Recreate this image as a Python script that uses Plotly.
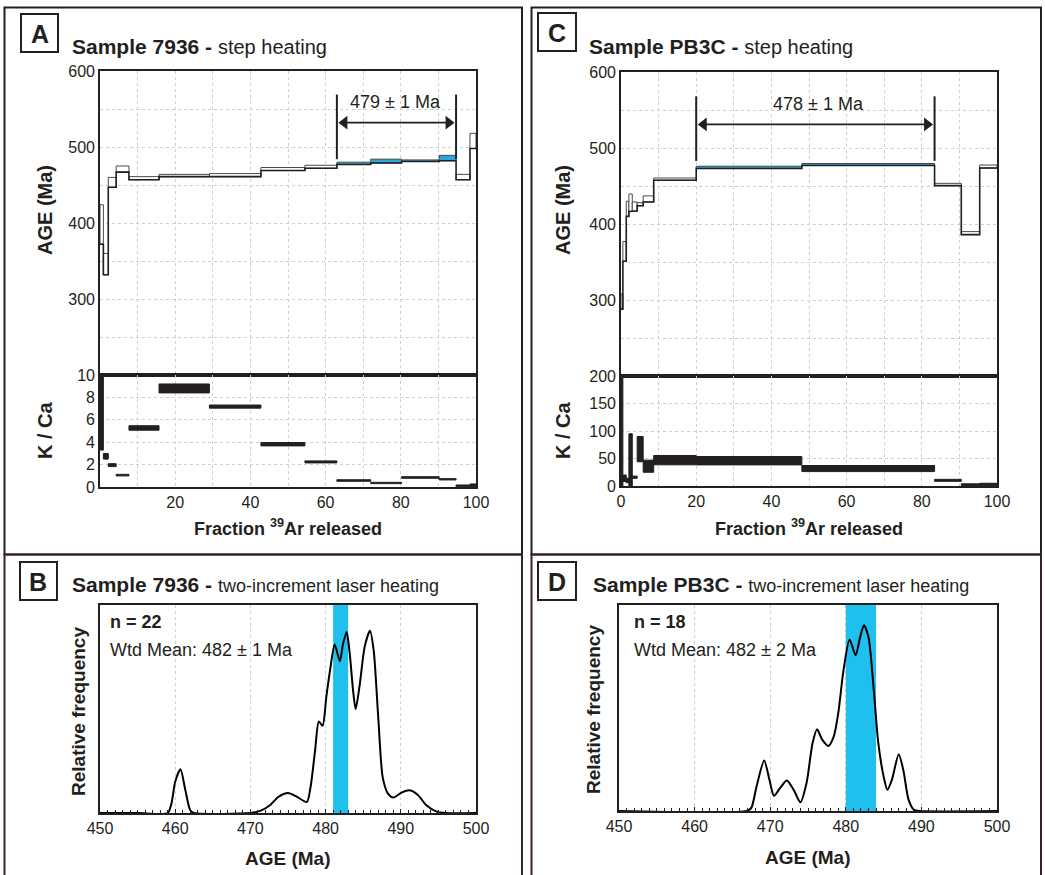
import plotly.graph_objects as go

W, H = 1045, 875

# ---------- Sample 7936: step heating ----------
a_cum = [0, 0.9, 2.2, 4.3, 7.7, 15.7, 29.1, 42.8, 54.5, 63.0, 72.0, 80.2, 90.2, 94.7, 98.4, 100]
a_age = [398, 346, 453.5, 471, 459, 462.5, 463, 471, 474, 478.5, 481.5, 482, 485.5, 460.5, 508]
a_err = [26, 14, 6.5, 4, 2, 1.5, 2, 2, 2, 1.5, 2.5, 1, 3.5, 3.5, 10]
a_kca = [6.7, 2.74, 1.95, 1.06, 5.27, 8.8, 7.18, 3.82, 2.24, 0.58, 0.36, 0.85, 0.69, 0.1, 0.15]
a_kca_err = [3.4, 0.25, 0.13, 0.07, 0.2, 0.4, 0.14, 0.15, 0.09, 0.07, 0.06, 0.07, 0.06, 0.08, 0.12]
a_plat_range = (63.0, 94.7)
a_plat_age, a_plat_err = 479, 1

# ---------- Sample PB3C: step heating ----------
c_cum = [0, 0.5, 1.4, 2.1, 3.0, 4.3, 5.9, 8.7, 20.0, 48.1, 83.4, 90.5, 95.4, 100]
c_age = [298, 364, 420, 428, 423, 426, 433, 459, 474.5, 478.3, 452, 388, 475.6]
c_err = [10, 13, 10, 11.5, 6, 2, 4, 1.5, 1.5, 1.3, 1.5, 2, 2]
c_kca = [110, 14, 10, 47, 16, 67, 36, 47, 46, 31.7, 10.3, 2.5, 3]
c_kca_err = [110, 6, 4, 48, 2, 23, 11, 8.5, 7.6, 5.5, 1.8, 1.5, 2]
c_plat_range = (20.0, 83.4)
c_plat_age, c_plat_err = 478, 1

# ---------- Sample 7936: laser probability curve ----------
b_age = [450, 455, 459.0, 459.5, 460.0, 460.7, 461.35, 462.0, 462.5, 470.0, 471.3, 472.6, 473.7,
         475.0, 476.1, 477.5, 478.0, 478.6, 479.1, 479.6, 480.1, 480.65, 481.2, 481.9, 482.3,
         482.8, 483.2, 483.65, 484.0, 484.55, 485.2, 485.9, 486.4, 487.0, 487.6, 488.3, 489.0,
         490.1, 491.2, 492.3, 493.4, 494.7, 496.0, 500]
b_freq = [0, 0, 0, 0.045, 0.15, 0.21, 0.11, 0.013, 0, 0, 0.01, 0.037, 0.077,
          0.096, 0.08, 0.053, 0.125, 0.30, 0.44, 0.42, 0.56, 0.70, 0.81, 0.73, 0.81,
          0.87, 0.77, 0.59, 0.50, 0.62, 0.80, 0.876, 0.78, 0.46, 0.17, 0.093, 0.074,
          0.098, 0.109, 0.085, 0.037, 0.008, 0, 0]
b_n, b_mean, b_err = 22, 482, 1

# ---------- Sample PB3C: laser probability curve ----------
d_age = [450, 466.9, 467.5, 468.2, 469.2, 469.9, 470.5, 471.3, 472.2, 473.1, 474.0, 474.8, 475.6,
         476.2, 476.9, 477.7, 478.4, 479.0, 479.7, 480.5, 481.3, 481.9, 482.4, 483.0, 483.7,
         484.3, 485.0, 485.5, 486.1, 487.0, 487.6, 488.3, 489.0, 489.8, 500]
d_freq = [0, 0, 0.015, 0.12, 0.245, 0.152, 0.074, 0.111, 0.148, 0.103, 0.042, 0.135, 0.329,
          0.397, 0.345, 0.316, 0.361, 0.474, 0.684, 0.832, 0.756, 0.845, 0.902, 0.845, 0.587,
          0.329, 0.168, 0.103, 0.152, 0.276, 0.2, 0.055, 0.006, 0, 0]
d_n, d_mean, d_err = 18, 482, 2

INK = "#231f20"
GRID = "#cfcfcf"
PLAT_BLUE = "#29a6dc"
BAND_BLUE = "#1fc0ee"
FONT = "Liberation Sans, Arial, sans-serif"


def px(x):
    return x / W


def py(y):
    return 1 - y / H


fig = go.Figure()
shapes = []
annotations = []


def axis(domain, rng, **kw):
    d = dict(domain=domain, range=rng, showline=True, mirror=True, linecolor=INK,
             linewidth=1.6, showgrid=True, gridcolor=GRID, gridwidth=0.8, griddash="3px,3px",
             zeroline=False, ticks="", tickfont=dict(size=16, color=INK, family=FONT),
             fixedrange=True, automargin=False)
    d.update(kw)
    return d


def frac_axis(domain, anchor, show_labels, skip_zero):
    vals = list(range(0, 101, 10))
    text = [("" if (v % 20 or (skip_zero and v == 0)) else str(v)) for v in vals]
    return axis(domain, [0, 100], tickvals=vals, ticktext=text, anchor=anchor,
                showticklabels=show_labels)


# axes: x/y = A age, x2/y2 = A K/Ca, x3/y3 = C age, x4/y4 = C K/Ca, x5/y5 = B, x6/y6 = D
xa = [px(100), px(476)]
xc = [px(621), px(997)]
age_vals = list(range(200, 601, 50))
age_text = ["" if (v % 100 or v == 200) else str(v) for v in age_vals]

layout_axes = dict(
    xaxis=frac_axis(xa, "y", False, True),
    yaxis=axis([py(375), py(71)], [200, 600], tickvals=age_vals, ticktext=age_text, anchor="x"),
    xaxis2=frac_axis(xa, "y2", True, True),
    yaxis2=axis([py(487), py(375)], [0, 10], tickvals=list(range(0, 11, 2)), anchor="x2"),
    xaxis3=frac_axis(xc, "y3", False, False),
    yaxis3=axis([py(376), py(72)], [200, 600], tickvals=age_vals, ticktext=age_text, anchor="x3"),
    xaxis4=frac_axis(xc, "y4", True, False),
    yaxis4=axis([py(486), py(376)], [0, 200], tickvals=list(range(0, 201, 50)), anchor="x4"),
    xaxis5=axis([px(100), px(476)], [450, 500], tickvals=list(range(450, 501, 10)), anchor="y5",
                ticks="inside", ticklen=4, tickcolor=INK,
                minor=dict(dtick=1, ticks="inside", ticklen=3, tickcolor=INK, showgrid=False)),
    yaxis5=axis([py(813), py(605)], [0, 1], showgrid=False, showticklabels=False, anchor="x5"),
    xaxis6=axis([px(619), px(997)], [450, 500], tickvals=list(range(450, 501, 10)), anchor="y6",
                ticks="inside", ticklen=4, tickcolor=INK,
                minor=dict(dtick=1, ticks="inside", ticklen=3, tickcolor=INK, showgrid=False)),
    yaxis6=axis([py(811), py(605)], [0, 1], showgrid=False, showticklabels=False, anchor="x6"),
)


def note(x, y, text, size, xanchor="center", yanchor="middle", angle=0):
    annotations.append(dict(xref="paper", yref="paper", x=px(x), y=py(y), text=text,
                            xanchor=xanchor, yanchor=yanchor, textangle=angle,
                            showarrow=False, font=dict(size=size, color=INK, family=FONT)))


def spectrum(cum, age, err, kca, kca_err, plat, plat_age, plat_err, xr, yr, xr2, yr2, label_x):
    lo_x, lo_y = [], []
    for i in range(len(age)):
        x0, x1 = cum[i], cum[i + 1]
        in_plat = x0 >= plat[0] - 1e-9 and x1 <= plat[1] + 1e-9
        shapes.append(dict(type="rect", xref=xr, yref=yr, x0=x0, x1=x1,
                           y0=age[i] - err[i], y1=age[i] + err[i],
                           fillcolor=PLAT_BLUE if in_plat else "white",
                           line=dict(color="#4a4a4a", width=1), layer="between"))
        shapes.append(dict(type="rect", xref=xr2, yref=yr2, x0=x0, x1=x1,
                           y0=max(kca[i] - kca_err[i], 0), y1=kca[i] + kca_err[i],
                           fillcolor=INK, line=dict(color=INK, width=1), layer="between"))
        lo_x += [x0, x1]
        lo_y += [age[i] - err[i]] * 2
    fig.add_trace(go.Scatter(x=lo_x, y=lo_y, xaxis=xr, yaxis=yr, mode="lines",
                             line=dict(color=INK, width=1.6), hoverinfo="skip",
                             showlegend=False))
    # plateau brackets with a double-headed arrow between them
    top = plat_age + 90
    for xv in plat:
        shapes.append(dict(type="line", xref=xr, yref=yr, x0=xv, x1=xv,
                           y0=plat_age + 5, y1=top, line=dict(color=INK, width=2)))
    fig.add_trace(go.Scatter(x=[plat[0] + 2.0, plat[1] - 2.0], y=[plat_age + 53] * 2,
                             xaxis=xr, yaxis=yr, mode="lines+markers",
                             line=dict(color=INK, width=1.8),
                             marker=dict(symbol=["triangle-left", "triangle-right"], size=12,
                                         color=INK, line=dict(width=0)),
                             hoverinfo="skip", showlegend=False))
    annotations.append(dict(xref=xr, yref=yr, x=label_x, y=plat_age + 80,
                            xanchor="center", yanchor="middle",
                            text=f"{plat_age} ± {plat_err} Ma", showarrow=False,
                            font=dict(size=18, color=INK, family=FONT)))


spectrum(a_cum, a_age, a_err, a_kca, a_kca_err, a_plat_range, a_plat_age, a_plat_err,
         "x", "y", "x2", "y2", 78.5)
spectrum(c_cum, c_age, c_err, c_kca, c_kca_err, c_plat_range, c_plat_age, c_plat_err,
         "x3", "y3", "x4", "y4", 52.5)


def probability(ages, freq, n, mean, err, xr, yr, x_left):
    shapes.append(dict(type="rect", xref=xr, yref=yr, x0=mean - err, x1=mean + err,
                       y0=0, y1=1, fillcolor=BAND_BLUE, line=dict(width=0), layer="between"))
    fig.add_trace(go.Scatter(x=ages, y=freq, xaxis=xr, yaxis=yr, mode="lines",
                             line=dict(color="black", width=2, shape="spline", smoothing=0.7),
                             hoverinfo="skip", showlegend=False))
    note(x_left, 622, f"<b>n = {n}</b>", 18, xanchor="left")
    note(x_left, 650, f"Wtd Mean: {mean} ± {err} Ma", 18, xanchor="left")


probability(b_age, b_freq, b_n, b_mean, b_err, "x5", "y5", 108)
probability(d_age, d_freq, d_n, d_mean, d_err, "x6", "y6", 632)

# ---------- panel frames, letters, headings ----------
for x0, x1 in [(4.5, 522), (531.5, 1041)]:
    shapes.append(dict(type="rect", xref="paper", yref="paper", x0=px(x0), x1=px(x1),
                       y0=py(554.5), y1=py(7.5), line=dict(color=INK, width=2)))
    shapes.append(dict(type="rect", xref="paper", yref="paper", x0=px(x0), x1=px(x1),
                       y0=py(885), y1=py(554.5), line=dict(color="#3a2222", width=2)))

letters = [("A", 21, 14, 58, 52), ("C", 538, 13, 576, 51),
           ("B", 20, 562, 57, 600), ("D", 538, 562, 576, 600)]
for lt, x0, y0, x1, y1 in letters:
    shapes.append(dict(type="rect", xref="paper", yref="paper", x0=px(x0), x1=px(x1),
                       y0=py(y1), y1=py(y0), line=dict(color=INK, width=2)))
    note((x0 + x1) / 2, (y0 + y1) / 2 + 1, f"<b>{lt}</b>", 25)

headings = [
    (70, 46, "7936", "step heating", 20),
    (587, 46, "PB3C", "step heating", 20),
    (70, 584, "7936", "two-increment laser heating", 18),
    (591, 584, "PB3C", "two-increment laser heating", 18),
]
for x, y, name, method, sz in headings:
    note(x, y, f"<b>Sample {name} -</b> <span style='font-size:{sz}px'>{method}</span>", 21,
         xanchor="left")

# axis titles
note(45, 210, "<b>AGE (Ma)</b>", 20, angle=-90)
note(45, 430, "<b>K / Ca</b>", 20, angle=-90)
note(288, 527, "<b>Fraction <sup>39</sup>Ar released</b>", 18)
note(563, 210, "<b>AGE (Ma)</b>", 20, angle=-90)
note(563, 430, "<b>K / Ca</b>", 20, angle=-90)
note(809, 527, "<b>Fraction <sup>39</sup>Ar released</b>", 18)
note(78, 712, "<b>Relative frequency</b>", 19, angle=-90)
note(288, 858, "<b>AGE (Ma)</b>", 19)
note(593, 710, "<b>Relative frequency</b>", 19, angle=-90)
note(808, 857, "<b>AGE (Ma)</b>", 19)

fig.update_layout(
    width=W, height=H, margin=dict(l=0, r=0, t=0, b=0, autoexpand=False),
    paper_bgcolor="white", plot_bgcolor="white",
    font=dict(family=FONT, color=INK),
    showlegend=False, shapes=shapes, annotations=annotations,
    **layout_axes,
)

fig.write_html("out.html")
